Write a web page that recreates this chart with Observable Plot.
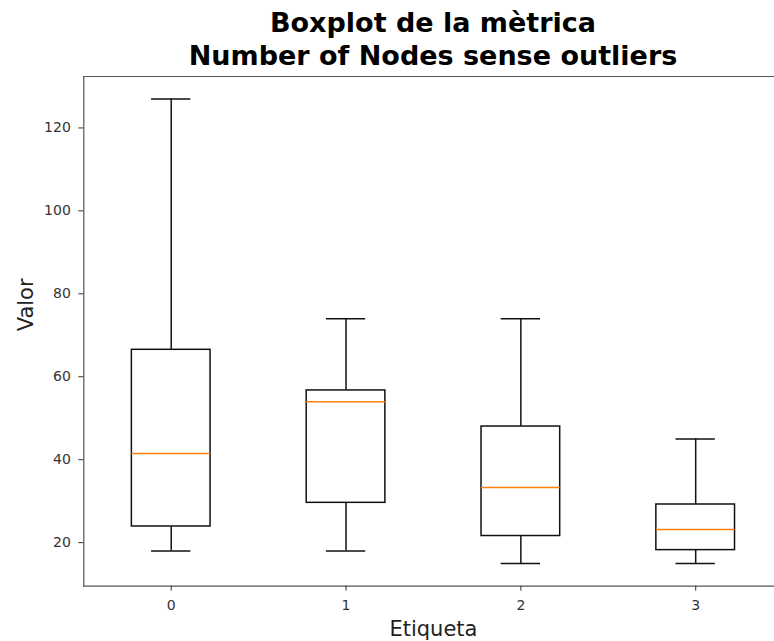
<!DOCTYPE html>
<html>
<head>
<meta charset="utf-8">
<script src="https://cdn.jsdelivr.net/npm/d3@7"></script>
<script src="https://cdn.jsdelivr.net/npm/@observablehq/plot@0.6"></script>
<style>
  html, body { margin: 0; padding: 0; background: #fff; }
  #title {
    width: 866px; height: 70px; box-sizing: border-box; padding-top: 6px;
    text-align: center; font-family: "DejaVu Sans", sans-serif; font-weight: bold;
    font-size: 27px; line-height: 33px; color: #000; white-space: nowrap;
  }
  #wrap { width: 774px; overflow: hidden; }
  #chart svg { display: block; }
</style>
</head>
<body>
<div id="wrap">
<div id="title">Boxplot de la mètrica<br>Number of Nodes sense outliers</div>
<div id="chart"></div>
</div>
<script>
const labels = [0, 1, 2, 3];
const whislo = [18, 18, 15, 15];
const q1 = [23.9, 29.6, 21.6, 18.2];
const med = [41.5, 54, 33.3, 23.2];
const q3 = [66.5, 56.7, 48, 29.2];
const whishi = [127, 74, 74, 45];
const yTicks = [20, 40, 60, 80, 100, 120];
const xLabel = "Etiqueta";
const yLabel = "Valor";
const xDomain = [-0.5, 3.5];
const yDomain = [9.5, 132.4];

const data = labels.map((l, i) => ({l, lo: whislo[i], q1: q1[i], med: med[i], q3: q3[i], hi: whishi[i]}));
const half = 0.225, cap = 0.1125;

const plot = Plot.plot({
  width: 774,
  height: 571,
  marginTop: 6,
  marginBottom: 55.3,
  marginLeft: 83.3,
  marginRight: 0,
  style: {fontFamily: "DejaVu Sans, sans-serif", fontSize: "14px", color: "#333", background: "#fff"},
  x: {type: "linear", domain: xDomain, range: [83.3, 782.6]},
  y: {domain: yDomain},
  marks: [
    Plot.frame({anchor: "top", stroke: "#555", strokeWidth: 1.2}),
    Plot.frame({anchor: "bottom", stroke: "#555", strokeWidth: 1.2}),
    Plot.frame({anchor: "left", stroke: "#555", strokeWidth: 1.2}),
    Plot.axisX({ticks: labels, tickFormat: d => String(d), tickSize: 5, tickPadding: 9, label: null, fontSize: 14}),
    Plot.axisY({ticks: yTicks, tickSize: 5, tickPadding: 8, label: null, fontSize: 14}),
    Plot.ruleX(data, {x: "l", y1: "q3", y2: "hi", stroke: "#111", strokeWidth: 1.5}),
    Plot.ruleX(data, {x: "l", y1: "lo", y2: "q1", stroke: "#111", strokeWidth: 1.5}),
    Plot.ruleY(data, {y: "hi", x1: d => d.l - cap, x2: d => d.l + cap, stroke: "#111", strokeWidth: 1.5}),
    Plot.ruleY(data, {y: "lo", x1: d => d.l - cap, x2: d => d.l + cap, stroke: "#111", strokeWidth: 1.5}),
    Plot.rect(data, {x1: d => d.l - half, x2: d => d.l + half, y1: "q1", y2: "q3", fill: "none", stroke: "#111", strokeWidth: 1.5}),
    Plot.ruleY(data, {y: "med", x1: d => d.l - half, x2: d => d.l + half, stroke: "#ff7f0e", strokeWidth: 1.5}),
    Plot.text([yLabel], {text: d => d, frameAnchor: "left", rotate: -90, dx: -58, fontSize: 21, fill: "#222"}),
    Plot.text([xLabel], {text: d => d, x: () => (xDomain[0] + xDomain[1]) / 2, frameAnchor: "bottom", lineAnchor: "top", dy: 34.4, fontSize: 21, fill: "#222"})
  ]
});
document.getElementById("chart").appendChild(plot);
</script>
</body>
</html>
